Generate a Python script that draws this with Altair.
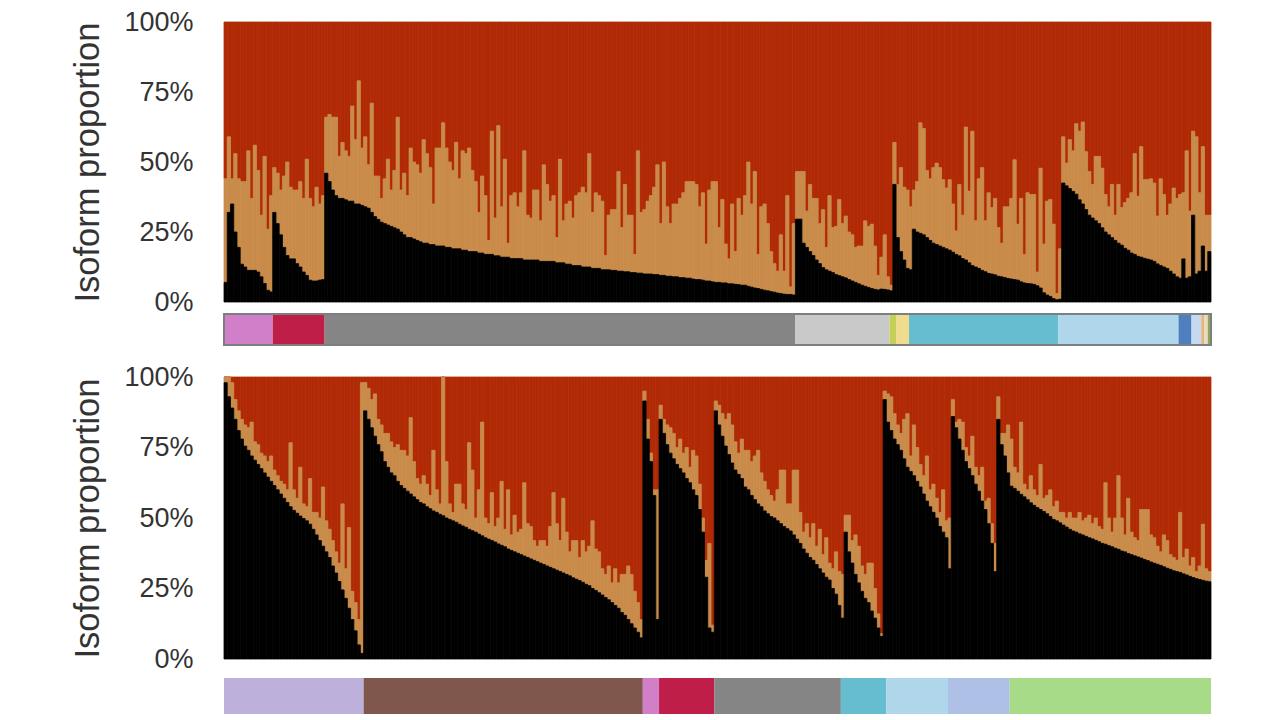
import altair as alt
import pandas as pd

# ---------- upper panel ----------
top_groups = ["pink", "crimson", "gray", "lightgray", "lime", "paleyellow", "teal",
              "lightblue", "blue", "paleblue", "tan", "cream", "olive"]
top_black = [
    # pink
    7, 32, 35, 25, 19.5, 13.5, 12.5, 11.3, 11.3, 11.3, 10.7, 9, 6.6, 4.2, 3.6,
    # crimson
    32, 28, 24, 19.5, 16.6, 15.4, 15.4, 13.7, 12.5, 10.7, 9.5, 7.8, 7.5, 7.5, 7.8, 8,
    # gray
    46, 43, 40, 38, 37, 37, 36.5, 36, 36, 35, 35, 34.5, 34, 33.5, 32, 30.5, 29.5, 28.5, 28, 27.5,
    27, 26.5, 26, 25, 24, 23, 23, 22.5, 22, 21.5, 21, 21, 20.5, 20.5, 20, 20, 20, 19.5, 19.5, 19,
    19, 19, 18.5, 18.5, 18, 18, 18, 17.5, 17.5, 17, 17, 17, 16.5, 16.5, 16, 16, 16, 15.5, 15.5, 15.5,
    15.5, 15, 15, 15, 15, 15, 14.5, 14.5, 14.5, 14.5, 14.5, 14, 14, 14, 13.5, 13.5, 13, 13, 13, 12.5,
    12.5, 12.5, 12, 12, 12, 11.5, 11.5, 11.5, 11.3, 11.3, 11, 11, 10.8, 10.8, 10.5, 10.5, 10.3, 10.3, 10, 10,
    10, 9.8, 9.8, 9.5, 9.5, 9.2, 9.2, 9, 9, 8.7, 8.7, 8.5, 8.5, 8.2, 8, 8, 7.8, 7.5, 7.5, 7.2,
    7, 7, 6.8, 6.8, 6.5, 6.5, 6.3, 6.2, 6, 6, 5.6, 5.3, 5, 4.8, 4.5, 4.2, 4, 3.7, 3.5, 3.2,
    3, 2.8, 2.7, 2.7, 2.5,
    # light gray
    29.6, 29.6, 21, 19.5, 18, 16.6, 15, 13.7, 12.3, 11.5, 11, 10.5, 9.8, 9.4, 9, 8.6, 8, 7.5, 7, 6.5,
    6, 5.6, 5.2, 4.8, 4.5, 4.3, 4.6, 4.5, 4.3,
    # lime
    4, 42,
    # pale yellow
    23, 18, 15, 12,
    # teal
    11.5, 26, 25, 24.5, 24, 23, 22, 21, 20.5, 20, 19.5, 19, 18.5, 17.8, 17, 16.5, 15.5, 15, 14, 13,
    12.5, 12, 11.3, 10.8, 10.2, 10, 9.7, 9.2, 9, 8.7, 8.4, 8.2, 8, 7.8, 7.2, 6.8, 6.6, 6.5, 6.3, 5.8,
    5, 3.3, 2.5, 2, 1.2, 0.8,
    # light blue
    1, 42.5, 41.5, 40.5, 39.5, 38.5, 36.5, 35, 33, 31, 30, 29, 28, 26.5, 25, 24, 23, 22, 21, 20.3,
    19.2, 18.5, 17.5, 17, 16.3, 16, 15.6, 15.3, 15, 14.5, 13.6, 13, 12.5, 12, 11, 10, 9,
    # blue
    8.5, 15.4, 8.5, 9,
    # pale blue
    31, 10, 11,
    # tan, cream, olive
    20, 11, 18,
]
top_orange = [
    # pink
    44, 59, 44, 53, 44, 43, 43, 54, 37, 56, 47, 31, 52, 26, 38,
    # crimson
    48, 46, 40, 45, 50, 41, 40, 40, 43, 37, 51, 37, 34, 41, 35, 38,
    # gray
    66, 67, 66, 66, 52, 57, 54, 52, 70, 58, 79, 55, 59, 49, 71, 45, 45, 37, 44, 51,
    40, 47, 66, 40, 46, 38, 55, 50, 49, 46, 58, 53, 48, 35, 55, 55, 64, 55, 50, 47,
    57, 44, 54, 53, 55, 47, 43, 32, 45, 38, 22, 61, 30, 63, 34, 51, 21, 38, 39, 34,
    39, 54, 31, 30, 40, 40, 29, 49, 42, 36, 38, 23, 51, 29, 35, 36, 30, 38, 39, 41,
    39, 53, 32, 39, 38, 36, 16.6, 31, 33, 33, 46.6, 26.6, 42, 31, 31, 17, 54, 32, 33, 36,
    38, 41, 49, 28, 50, 34, 28, 35, 35, 37, 39, 43, 43, 43, 42, 34, 39, 20.7, 40, 43,
    43, 26.6, 36.6, 20.7, 15.4, 35, 18, 37, 31, 38, 50, 35, 46.6, 17, 34, 35, 28, 18, 13.7, 11,
    24, 11, 38, 5.4, 28,
    # light gray
    46.6, 46.6, 46.6, 32.5, 42, 37, 37, 28, 33, 19.5, 38, 26.6, 27, 36.6, 28, 30.7, 25, 24, 19.5, 20,
    20, 29, 27, 27.8, 20, 9.5, 16, 24, 9,
    # lime
    6, 57,
    # pale yellow
    42, 48, 41, 40,
    # teal
    34, 40, 43, 64, 62, 47, 44, 48, 49.6, 48, 43.7, 40.7, 43.7, 35, 25.4, 42, 31, 62.5, 39.6, 61,
    29, 44, 48, 29, 39, 33.7, 37, 26.6, 21, 34, 34, 37, 50.8, 27.8, 37, 17, 39, 38.4, 38.4, 10.7,
    47.8, 20.7, 36, 36.6, 27.8, 3,
    # light blue
    19, 59, 49.6, 58, 54, 63.7, 61, 64.3, 53.7, 46.6, 42, 52, 52, 47.8, 38.4, 34, 42, 31, 42, 33.7,
    35.5, 37, 39, 53, 37.8, 55.5, 43.7, 43.7, 44, 42.5, 30.7, 44, 38.4, 31, 35, 40.7, 37,
    # blue
    38.4, 39, 54, 32.5,
    # pale blue
    61, 59, 39,
    # tan, cream, olive
    55.5, 31, 31,
]
top_counts = [15, 16, 145, 29, 2, 4, 46, 37, 4, 3, 1, 1, 1]

# ---------- lower panel ----------
bottom_groups = ["lavender", "brown", "pink", "crimson", "gray", "teal",
                 "lightblue", "periwinkle", "green"]
bottom_black = [
    # lavender
    98, 93, 89, 85, 81, 78, 75.5, 74, 72, 70.5, 69, 67.5, 66, 64.5, 63, 61.5, 60, 58.5, 57, 55.5,
    54, 52.7, 51.7, 50.7, 49.8, 49, 47.8, 46, 44, 42, 40, 38, 36, 33, 30.5, 27.5, 24.5, 21.5, 18, 14,
    10, 5, 2,
    # brown
    88, 85, 82, 79, 76, 73.5, 70, 68, 66, 65, 63, 61.5, 60.5, 59.5, 58.5, 57.5, 56.5, 55.5, 55, 54,
    53.3, 52.5, 52, 51.3, 50.8, 50, 49.5, 49, 48.5, 47.8, 47.2, 46.7, 46, 45.5, 45, 44.3, 43.7, 43, 42.5, 42,
    41.5, 40.8, 40.3, 39.8, 39, 38.5, 38, 37.5, 37, 36.5, 36, 35.5, 35, 34.5, 34, 33.5, 33, 32.5, 32, 31.5,
    31, 30.5, 30, 29.5, 28.8, 28.3, 27.8, 27.2, 26.5, 26, 25, 24.3, 23.5, 22.7, 21.8, 21, 20, 19, 18, 16.5,
    15.5, 14, 12.5, 11, 9.5, 7.5,
    # pink
    91.5, 78, 70, 58, 14,
    # crimson
    85, 80, 76, 73, 71, 69, 67.5, 66, 64, 62.5, 60, 58, 53, 45, 29, 11, 9.5,
    # gray
    88, 83, 79, 75.5, 72.5, 69.5, 67, 65.5, 64, 61, 60, 58, 56.5, 55, 54, 52.5, 51.5, 50.5, 50, 49,
    48, 47, 46.2, 45.4, 44, 42.5, 41, 39, 37.5, 36, 35, 33.5, 32, 30.5, 29, 28, 25, 23, 19,
    # teal
    14.5, 45, 38, 34, 30, 27, 24, 21.5, 20, 17, 14.5, 11, 8, 92,
    # light blue
    84, 81, 78, 76, 74, 71, 68, 66.5, 65, 63, 61, 58.5, 56, 54, 52, 50, 47, 45, 43,
    # periwinkle
    32, 86, 82, 78, 74, 70, 67.5, 65, 62, 59.5, 56, 53, 48, 41, 31, 85, 76, 72, 66,
    # green
    61.3, 60.5, 59.5, 58.4, 57.5, 56.5, 55.4, 54.5, 53.7, 53, 52.3, 51.5, 50.5, 49.5, 49, 48.3, 47.5, 46.8, 46, 45.4,
    45, 44.4, 44, 43.5, 43, 42.6, 42.1, 41.6, 41, 40.7, 40.2, 39.8, 39.3, 38.9, 38.3, 38, 37.4, 37, 36.6, 36.2,
    35.8, 35.3, 34.9, 34.4, 34, 33.6, 33.2, 32.7, 32.2, 31.8, 31.3, 31, 30.7, 30.2, 29.8, 29.3, 28.9, 28.5, 28.2, 27.9,
    27.6, 27.4,
]
bottom_orange = [
    # lavender
    100, 100, 98, 92, 88, 85, 83, 82, 84, 77, 76, 73, 72, 70, 72, 67, 65, 63, 62, 60,
    76.7, 60, 57, 68, 55, 54, 64, 52, 52, 50, 61, 49, 46, 42, 38, 34, 55, 32, 46.6, 24,
    20, 14, 98,
    # brown
    98, 96, 92, 94, 85, 83, 80, 80, 77, 75, 76, 74, 74, 72, 85.6, 70, 64, 62, 65, 62,
    58, 74, 60, 55, 100, 70, 55, 52, 62, 62, 55, 53, 76.7, 67, 50, 60, 84, 50, 48, 59,
    47, 50, 63, 46, 60, 44, 51, 45, 46, 62.5, 48, 47, 42, 40, 42, 42, 40, 47, 59, 48,
    42, 57, 45, 38, 42, 42, 36, 42, 38, 40, 49, 39, 38, 32, 30, 33, 27, 32, 27, 30,
    30, 33, 30, 24, 20, 14,
    # pink
    95, 85, 73, 60, 60,
    # crimson
    90, 85, 83, 82, 80, 75, 78, 73, 75, 68, 74, 72, 62, 50, 35, 41, 12,
    # gray
    91.5, 90, 87, 85, 87, 83, 77, 73, 78, 74, 74, 70, 72, 74, 66, 63, 60, 58, 56, 60,
    67, 67, 55, 55, 67, 67, 52, 45, 48, 43, 48, 40, 46, 37, 43, 34, 32, 38, 31,
    # teal
    30, 51, 51, 42, 44, 40, 33, 30, 34, 34, 25, 16, 9, 95,
    # light blue
    94, 93, 87, 83, 80, 85, 87, 72, 83, 75, 69, 65, 72, 60, 62, 57, 52, 60, 49,
    # periwinkle
    50, 92, 84, 85, 84, 75, 72, 79, 68, 65, 68, 56, 57, 48, 41, 93, 80, 80, 83,
    # green
    78, 68, 66, 84, 62, 60, 65, 60, 58, 69, 57, 58, 60, 54, 56, 52, 52, 50, 52, 50,
    50, 52, 49, 50, 51, 48, 50, 47, 46, 62.5, 50, 45, 50, 65, 50, 44, 57, 45, 43, 42,
    53, 53, 53, 44, 43, 40, 38, 44, 42, 37, 36, 35, 52, 36, 39, 33, 36, 31, 33, 47.8,
    32, 31,
]
bottom_counts = [43, 86, 5, 17, 39, 14, 19, 19, 62]

# ---------- colours ----------
isoform_names = ["Isoform C", "Isoform B", "Isoform A"]
isoform_colors = ["#B12A06", "#C98B4A", "#000000"]
group_names = ["pink", "crimson", "gray", "lightgray", "lime", "paleyellow", "teal", "lightblue",
               "blue", "paleblue", "tan", "cream", "olive", "lavender", "brown", "periwinkle", "green"]
group_colors = ["#D07FC8", "#BE1E48", "#858585", "#C9C9C9", "#C4CF58", "#EFDC8C", "#66BDCF", "#AFD6EA",
                "#4F7FBF", "#C6D9EF", "#E5B47F", "#EBDCC0", "#8FA65A", "#BDB1DC", "#7F574C", "#AEC0E6", "#A8DB87"]

FONT = "Liberation Sans"
TEXT = "#333333"
W = 987


def long_bars(black, orange):
    red_rows, orange_rows, black_rows = [], [], []
    for i, (b, o) in enumerate(zip(black, orange)):
        o = max(b, o)
        red_rows.append(dict(i=i, i1=i + 1, low=o, high=100, isoform="Isoform C"))
        orange_rows.append(dict(i=i, i1=i + 1, low=b, high=o, isoform="Isoform B"))
        black_rows.append(dict(i=i, i1=i + 1, low=0, high=b, isoform="Isoform A"))
    return pd.DataFrame(red_rows + orange_rows + black_rows)


def strip_rows(groups, counts):
    rows, start = [], 0
    for g, c in zip(groups, counts):
        rows.append(dict(start=start, end=start + c, group=g))
        start += c
    return pd.DataFrame(rows)


def panel(black, orange, height):
    n = len(black)
    df = long_bars(black, orange)
    iso = alt.Scale(domain=isoform_names, range=isoform_colors)
    return alt.Chart(df, width=W, height=height).mark_rect(strokeWidth=0.8).encode(
        x=alt.X("i:Q", axis=None, scale=alt.Scale(domain=[0, n], nice=False, zero=False)),
        x2="i1:Q",
        y=alt.Y("low:Q", scale=alt.Scale(domain=[0, 100], nice=False),
                axis=alt.Axis(values=[0, 25, 50, 75, 100], labelExpr="datum.value + '%'",
                              title="Isoform proportion", domain=False, ticks=False, grid=False,
                              labelFont=FONT, labelFontSize=27, labelColor=TEXT, labelPadding=31,
                              titleFont=FONT, titleFontSize=34.5, titleFontWeight="normal",
                              titleColor=TEXT, titlePadding=18)),
        y2="high:Q",
        color=alt.Color("isoform:N", scale=iso, legend=None),
        stroke=alt.Stroke("isoform:N", scale=iso, legend=None),
    )


def strip(groups, counts, height, border):
    n = sum(counts)
    df = strip_rows(groups, counts)
    grp = alt.Scale(domain=group_names, range=group_colors)
    base = alt.Chart(df, width=W, height=height).mark_rect().encode(
        x=alt.X("start:Q", axis=None, scale=alt.Scale(domain=[0, n], nice=False, zero=False)),
        x2="end:Q",
        fill=alt.Fill("group:N", scale=grp, legend=None),
    )
    if border:
        frame = alt.Chart(df.head(1), width=W, height=height).mark_rect(
            fillOpacity=0, stroke="#7A7F80", strokeWidth=2
        ).encode(x=alt.value(0), x2=alt.value(W), y=alt.value(0), y2=alt.value(height))
        return alt.layer(base, frame)
    return base


upper = alt.vconcat(panel(top_black, top_orange, 280), strip(top_groups, top_counts, 31, True),
                    spacing=12, bounds="flush")
lower = alt.vconcat(panel(bottom_black, bottom_orange, 282), strip(bottom_groups, bottom_counts, 36, False),
                    spacing=19, bounds="flush")

chart = alt.vconcat(upper, lower, spacing=17).properties(
    padding={"left": 62, "top": 0, "right": 0, "bottom": 0}, background="white"
).configure_view(stroke=None)

chart.save("out.html", embed_options={"renderer": "svg", "actions": False})
